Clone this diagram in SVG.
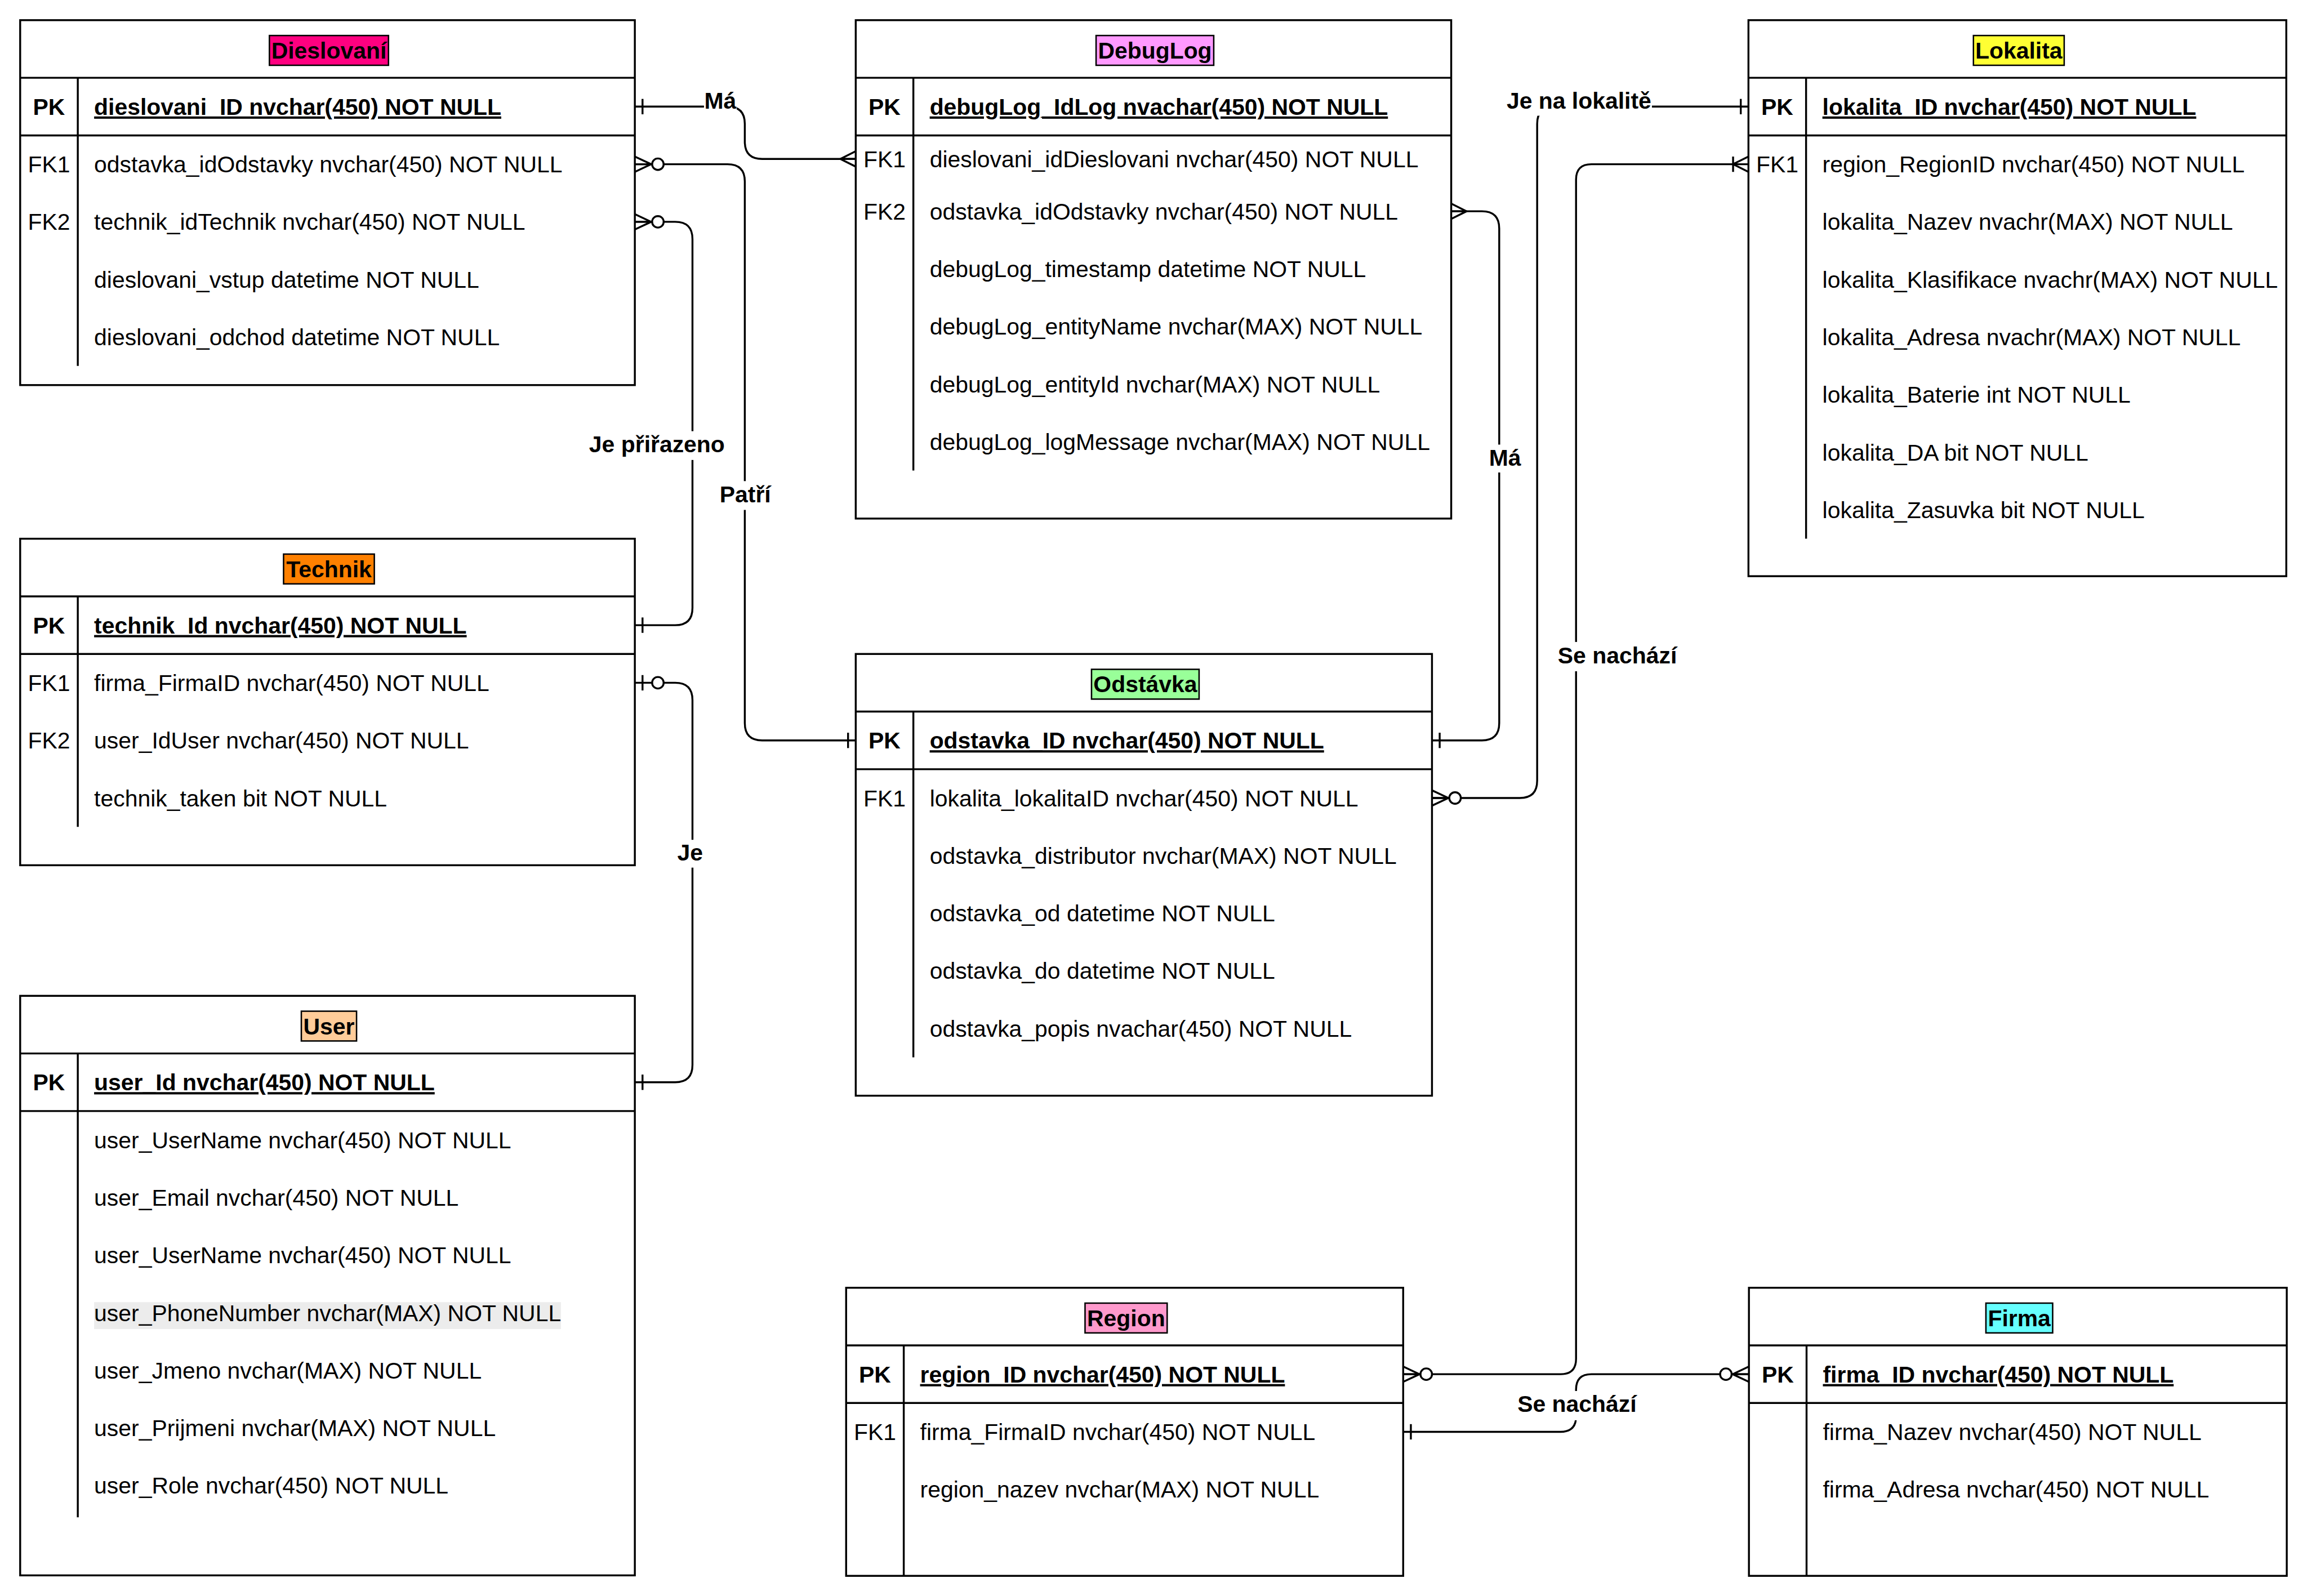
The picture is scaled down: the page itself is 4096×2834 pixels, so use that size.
<svg xmlns="http://www.w3.org/2000/svg" xmlns:xlink="http://www.w3.org/1999/xlink" width="4096" height="2834" viewBox="0 0 4096 2834">
<style>
.tb{fill:#fff;stroke:#000;stroke-width:4}
.ln{stroke:#000;stroke-width:4;fill:none}
.t{font-family:"Liberation Sans",Arial,sans-serif;font-size:48px;fill:#000}
.b{font-weight:bold}
.u{text-decoration:underline}
.c{text-anchor:middle}
.ttl{stroke:#000;stroke-width:3}
.lbg{fill:#fff}
.cn{stroke:#000;stroke-width:4;fill:none}
.mk{stroke:#000;stroke-width:4;fill:none}
.ci{fill:#fff;stroke:#000;stroke-width:4}
</style>
<defs>
<g id="one"><path class="mk" d="M16,-16 V16"/></g>
<g id="many"><path class="mk" d="M0,-16 L32,0 L0,16 M0,0 H32"/></g>
<g id="zm"><path class="mk" d="M0,-16 L34,0 L0,16 M0,0 H36"/><circle class="ci" cx="48" cy="0" r="12"/></g>
<g id="zo"><path class="mk" d="M16,-16 V16"/><circle class="ci" cx="48" cy="0" r="12"/></g>
<g id="om"><path class="mk" d="M0,-16 L32,0 L0,16 M32,-16 V16"/></g>
</defs>
<rect x="0" y="0" width="4096" height="2834" fill="#fff"/>
<g transform="scale(0.8526)">

<g id="connectors">
<path class="cn" d="M1322,222 H1515 Q1551,222 1551,258 V295 Q1551,331 1587,331 H1782"/>
<path class="cn" d="M1322,342 H1515 Q1551,342 1551,378 V1506 Q1551,1542 1587,1542 H1782"/>
<path class="cn" d="M1322,462 H1406 Q1442,462 1442,498 V1266 Q1442,1302 1406,1302 H1322"/>
<path class="cn" d="M1322,1422 H1406 Q1442,1422 1442,1458 V2218 Q1442,2254 1406,2254 H1322"/>
<path class="cn" d="M3022,440 H3086 Q3122,440 3122,476 V1506 Q3122,1542 3086,1542 H2982"/>
<path class="cn" d="M3641,222 H3237 Q3201,222 3201,258 V1626 Q3201,1662 3165,1662 H2982"/>
<path class="cn" d="M3641,342 H3314 Q3282,342 3282,374 V2830 Q3282,2862 3250,2862 H2922"/>
<path class="cn" d="M3642,2862 H3314 Q3282,2862 3282,2894 V2950 Q3282,2982 3250,2982 H2922"/>
<use xlink:href="#one" transform="translate(1322,222)"/>
<use xlink:href="#many" transform="translate(1782,331) scale(-1,1)"/>
<use xlink:href="#zm" transform="translate(1322,342)"/>
<use xlink:href="#one" transform="translate(1782,1542) scale(-1,1)"/>
<use xlink:href="#zm" transform="translate(1322,462)"/>
<use xlink:href="#one" transform="translate(1322,1302)"/>
<use xlink:href="#zo" transform="translate(1322,1422)"/>
<use xlink:href="#one" transform="translate(1322,2254)"/>
<use xlink:href="#many" transform="translate(3022,440)"/>
<use xlink:href="#one" transform="translate(2982,1542)"/>
<use xlink:href="#one" transform="translate(3641,222) scale(-1,1)"/>
<use xlink:href="#zm" transform="translate(2982,1662)"/>
<use xlink:href="#om" transform="translate(3641,342) scale(-1,1)"/>
<use xlink:href="#zm" transform="translate(2922,2862)"/>
<use xlink:href="#zm" transform="translate(3642,2862) scale(-1,1)"/>
<use xlink:href="#one" transform="translate(2922,2982)"/>
<rect class="lbg" x="1466" y="184" width="68" height="56"/>
<text class="t b c" x="1500" y="226">Má</text>
<rect class="lbg" x="1496" y="1002" width="112" height="60"/>
<text class="t b c" x="1552" y="1046">Patří</text>
<rect class="lbg" x="1224" y="898" width="288" height="60"/>
<text class="t b c" x="1368" y="942">Je přiřazeno</text>
<rect class="lbg" x="1408" y="1749" width="58" height="58"/>
<text class="t b c" x="1437" y="1792">Je</text>
<rect class="lbg" x="3100" y="926" width="68" height="58"/>
<text class="t b c" x="3134" y="970">Má</text>
<rect class="lbg" x="3136" y="184" width="304" height="57"/>
<text class="t b c" x="3288" y="226">Je na lokalitě</text>
<rect class="lbg" x="3242" y="1337" width="252" height="61"/>
<text class="t b c" x="3368" y="1382">Se nachází</text>
<rect class="lbg" x="3158" y="2897" width="252" height="61"/>
<text class="t b c" x="3284" y="2941">Se nachází</text>
</g>

<g id="dieslovani">
<rect class="tb" x="42" y="42" width="1280" height="760"/>
<path class="ln" d="M42,162 H1322 M42,282 H1322 M162,162 V762"/>
<rect class="ttl" x="561" y="74" width="248" height="62" fill="#FF0080"/>
<text class="t b c" x="685" y="122">Dieslovaní</text>
<text class="t b c" x="102" y="239">PK</text>
<text class="t b u" x="196" y="239">dieslovani_ID nvchar(450) NOT NULL</text>
<text class="t c" x="102" y="359">FK1</text>
<text class="t" x="196" y="359">odstavka_idOdstavky nvchar(450) NOT NULL</text>
<text class="t c" x="102" y="479">FK2</text>
<text class="t" x="196" y="479">technik_idTechnik nvchar(450) NOT NULL</text>
<text class="t" x="196" y="599">dieslovani_vstup datetime NOT NULL</text>
<text class="t" x="196" y="719">dieslovani_odchod datetime NOT NULL</text>
</g>

<g id="debuglog">
<rect class="tb" x="1782" y="42" width="1240" height="1038"/>
<path class="ln" d="M1782,162 H3022 M1782,282 H3022 M1902,162 V980"/>
<rect class="ttl" x="2282.5" y="74" width="245" height="62" fill="#FF99FF"/>
<text class="t b c" x="2405" y="122">DebugLog</text>
<text class="t b c" x="1842" y="239">PK</text>
<text class="t b u" x="1936" y="239">debugLog_IdLog nvachar(450) NOT NULL</text>
<text class="t c" x="1842" y="348">FK1</text>
<text class="t" x="1936" y="348">dieslovani_idDieslovani nvchar(450) NOT NULL</text>
<text class="t c" x="1842" y="457">FK2</text>
<text class="t" x="1936" y="457">odstavka_idOdstavky nvchar(450) NOT NULL</text>
<text class="t" x="1936" y="577">debugLog_timestamp datetime NOT NULL</text>
<text class="t" x="1936" y="697">debugLog_entityName nvchar(MAX) NOT NULL</text>
<text class="t" x="1936" y="817">debugLog_entityId nvchar(MAX) NOT NULL</text>
<text class="t" x="1936" y="937">debugLog_logMessage nvchar(MAX) NOT NULL</text>
</g>

<g id="lokalita">
<rect class="tb" x="3641" y="42" width="1120" height="1158"/>
<path class="ln" d="M3641,162 H4761 M3641,282 H4761 M3761,162 V1122"/>
<rect class="ttl" x="4109.5" y="74" width="189" height="62" fill="#FFFF33"/>
<text class="t b c" x="4204" y="122">Lokalita</text>
<text class="t b c" x="3701" y="239">PK</text>
<text class="t b u" x="3795" y="239">lokalita_ID nvchar(450) NOT NULL</text>
<text class="t c" x="3701" y="359">FK1</text>
<text class="t" x="3795" y="359">region_RegionID nvchar(450) NOT NULL</text>
<text class="t" x="3795" y="479">lokalita_Nazev nvachr(MAX) NOT NULL</text>
<text class="t" x="3795" y="599">lokalita_Klasifikace nvachr(MAX) NOT NULL</text>
<text class="t" x="3795" y="719">lokalita_Adresa nvachr(MAX) NOT NULL</text>
<text class="t" x="3795" y="839">lokalita_Baterie int NOT NULL</text>
<text class="t" x="3795" y="959">lokalita_DA bit NOT NULL</text>
<text class="t" x="3795" y="1079">lokalita_Zasuvka bit NOT NULL</text>
</g>

<g id="technik">
<rect class="tb" x="42" y="1122" width="1280" height="680"/>
<path class="ln" d="M42,1242 H1322 M42,1362 H1322 M162,1242 V1722"/>
<rect class="ttl" x="590.5" y="1154" width="189" height="62" fill="#FF8000"/>
<text class="t b c" x="685" y="1202">Technik</text>
<text class="t b c" x="102" y="1319">PK</text>
<text class="t b u" x="196" y="1319">technik_Id nvchar(450) NOT NULL</text>
<text class="t c" x="102" y="1439">FK1</text>
<text class="t" x="196" y="1439">firma_FirmaID nvchar(450) NOT NULL</text>
<text class="t c" x="102" y="1559">FK2</text>
<text class="t" x="196" y="1559">user_IdUser nvchar(450) NOT NULL</text>
<text class="t" x="196" y="1679">technik_taken bit NOT NULL</text>
</g>

<g id="user">
<rect class="tb" x="42" y="2074" width="1280" height="1207"/>
<path class="ln" d="M42,2194 H1322 M42,2314 H1322 M162,2194 V3160"/>
<rect class="ttl" x="627.5" y="2106" width="115" height="62" fill="#FFCC99"/>
<text class="t b c" x="685" y="2154">User</text>
<text class="t b c" x="102" y="2271">PK</text>
<text class="t b u" x="196" y="2271">user_Id nvchar(450) NOT NULL</text>
<text class="t" x="196" y="2391">user_UserName nvchar(450) NOT NULL</text>
<text class="t" x="196" y="2511">user_Email nvchar(450) NOT NULL</text>
<text class="t" x="196" y="2631">user_UserName nvchar(450) NOT NULL</text>
<rect x="196" y="2712" width="972" height="56" fill="#ECECEC"/>
<text class="t" x="196" y="2751">user_PhoneNumber nvchar(MAX) NOT NULL</text>
<text class="t" x="196" y="2871">user_Jmeno nvchar(MAX) NOT NULL</text>
<text class="t" x="196" y="2991">user_Prijmeni nvchar(MAX) NOT NULL</text>
<text class="t" x="196" y="3111">user_Role nvchar(450) NOT NULL</text>
</g>

<g id="odstavka">
<rect class="tb" x="1782" y="1362" width="1200" height="920"/>
<path class="ln" d="M1782,1482 H2982 M1782,1602 H2982 M1902,1482 V2202"/>
<rect class="ttl" x="2273" y="1394" width="224" height="62" fill="#99FF99"/>
<text class="t b c" x="2385" y="1442">Odstávka</text>
<text class="t b c" x="1842" y="1559">PK</text>
<text class="t b u" x="1936" y="1559">odstavka_ID nvchar(450) NOT NULL</text>
<text class="t c" x="1842" y="1679">FK1</text>
<text class="t" x="1936" y="1679">lokalita_lokalitaID nvchar(450) NOT NULL</text>
<text class="t" x="1936" y="1799">odstavka_distributor nvchar(MAX) NOT NULL</text>
<text class="t" x="1936" y="1919">odstavka_od datetime NOT NULL</text>
<text class="t" x="1936" y="2039">odstavka_do datetime NOT NULL</text>
<text class="t" x="1936" y="2159">odstavka_popis nvachar(450) NOT NULL</text>
</g>

<g id="region">
<rect class="tb" x="1762" y="2682" width="1160" height="600"/>
<path class="ln" d="M1762,2802 H2922 M1762,2922 H2922 M1882,2802 V3282"/>
<rect class="ttl" x="2259.5" y="2714" width="171" height="62" fill="#FF99CC"/>
<text class="t b c" x="2345" y="2762">Region</text>
<text class="t b c" x="1822" y="2879">PK</text>
<text class="t b u" x="1916" y="2879">region_ID nvchar(450) NOT NULL</text>
<text class="t c" x="1822" y="2999">FK1</text>
<text class="t" x="1916" y="2999">firma_FirmaID nvchar(450) NOT NULL</text>
<text class="t" x="1916" y="3119">region_nazev nvchar(MAX) NOT NULL</text>
</g>

<g id="firma">
<rect class="tb" x="3642" y="2682" width="1120" height="600"/>
<path class="ln" d="M3642,2802 H4762 M3642,2922 H4762 M3762,2802 V3282"/>
<rect class="ttl" x="4135.5" y="2714" width="139" height="62" fill="#66FFFF"/>
<text class="t b c" x="4205" y="2762">Firma</text>
<text class="t b c" x="3702" y="2879">PK</text>
<text class="t b u" x="3796" y="2879">firma_ID nvchar(450) NOT NULL</text>
<text class="t" x="3796" y="2999">firma_Nazev nvchar(450) NOT NULL</text>
<text class="t" x="3796" y="3119">firma_Adresa nvchar(450) NOT NULL</text>
</g>

</g>
</svg>
